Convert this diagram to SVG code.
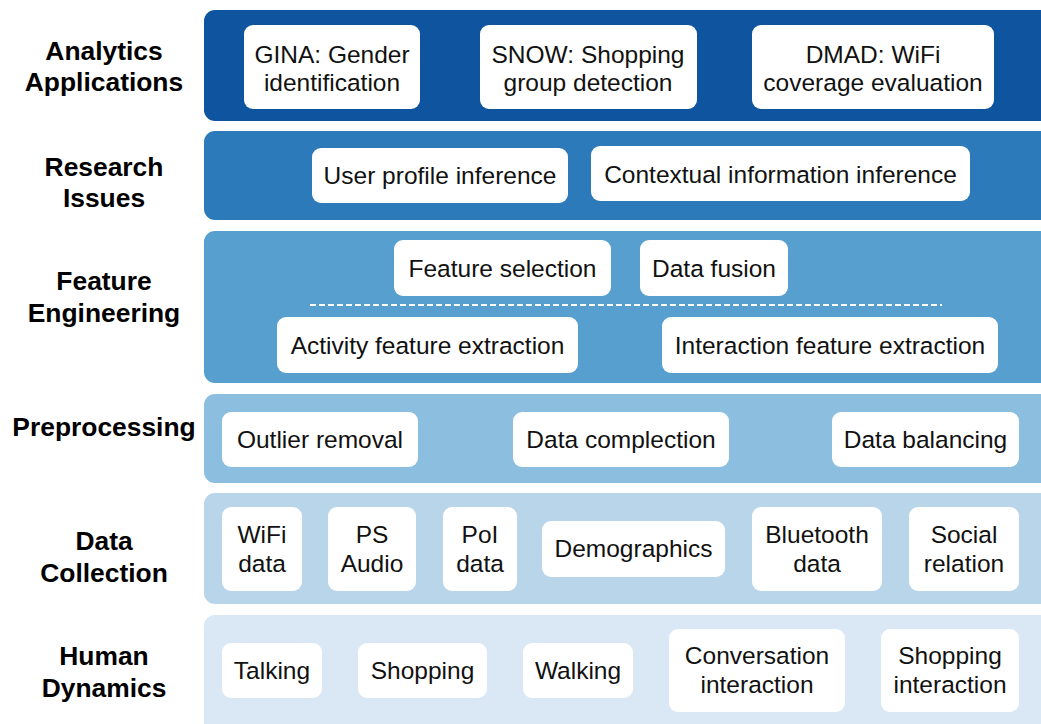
<svg xmlns="http://www.w3.org/2000/svg" width="1041" height="724" viewBox="0 0 1041 724">
<style>
.band{stroke:none}
.box{fill:#fff;stroke:none}
.lbl{font-family:"Liberation Sans",Arial,sans-serif;font-weight:bold;font-size:26.4px;fill:#000;text-anchor:middle}
.t{font-family:"Liberation Sans",Arial,sans-serif;font-size:24.5px;fill:#111;text-anchor:middle}
</style>
<rect width="1041" height="724" fill="#fff"/>
<g id="layer-analytics">
<rect class="band" x="204" y="10" width="848" height="111" rx="11" fill="#0e549f"/>
<text class="lbl" x="104" y="60">Analytics</text><text class="lbl" x="104" y="91">Applications</text>
</g>
<g id="layer-research">
<rect class="band" x="204" y="131" width="848" height="89" rx="11" fill="#2c7aba"/>
<text class="lbl" x="104" y="176">Research</text><text class="lbl" x="104" y="207">Issues</text>
</g>
<g id="layer-feature">
<rect class="band" x="204" y="231" width="848" height="152" rx="11" fill="#579fcf"/>
<text class="lbl" x="104" y="290">Feature</text><text class="lbl" x="104" y="322">Engineering</text>
</g>
<g id="layer-preprocessing">
<rect class="band" x="204" y="394" width="848" height="89" rx="11" fill="#8bbedf"/>
<text class="lbl" x="104" y="436">Preprocessing</text>
</g>
<g id="layer-datacollection">
<rect class="band" x="204" y="493" width="848" height="111" rx="11" fill="#b9d5ea"/>
<text class="lbl" x="104" y="550">Data</text><text class="lbl" x="104" y="582">Collection</text>
</g>
<g id="layer-human">
<rect class="band" x="204" y="615" width="848" height="120" rx="11" fill="#dae7f4"/>
<text class="lbl" x="104" y="665">Human</text><text class="lbl" x="104" y="697">Dynamics</text>
</g>
<g id="connectors">
<line x1="310" y1="305" x2="942" y2="305" stroke="#fff" stroke-width="2" stroke-dasharray="6,3"/>
</g>
<g id="n-gina"><rect class="box" x="244" y="25" width="176" height="84" rx="9"/><text class="t" x="332" y="63">GINA: Gender</text><text class="t" x="332" y="91">identification</text></g>
<g id="n-snow"><rect class="box" x="480" y="25" width="217" height="84" rx="9"/><text class="t" x="588" y="63">SNOW: Shopping</text><text class="t" x="588" y="91">group detection</text></g>
<g id="n-dmad"><rect class="box" x="752" y="25" width="242" height="84" rx="9"/><text class="t" x="873" y="63">DMAD: WiFi</text><text class="t" x="873" y="91">coverage evaluation</text></g>
<g id="n-user"><rect class="box" x="312" y="148" width="256" height="55" rx="9"/><text class="t" x="440" y="184">User profile inference</text></g>
<g id="n-context"><rect class="box" x="591" y="146" width="379" height="55" rx="9"/><text class="t" x="780.5" y="183">Contextual information inference</text></g>
<g id="n-fsel"><rect class="box" x="394" y="240" width="217" height="56" rx="9"/><text class="t" x="502.5" y="277">Feature selection</text></g>
<g id="n-fusion"><rect class="box" x="640" y="240" width="148" height="56" rx="9"/><text class="t" x="714" y="277">Data fusion</text></g>
<g id="n-activity"><rect class="box" x="277" y="317" width="301" height="56" rx="9"/><text class="t" x="427.5" y="354">Activity feature extraction</text></g>
<g id="n-interaction"><rect class="box" x="662" y="317" width="336" height="56" rx="9"/><text class="t" x="830" y="354">Interaction feature extraction</text></g>
<g id="n-outlier"><rect class="box" x="222" y="412" width="196" height="55" rx="9"/><text class="t" x="320" y="448">Outlier removal</text></g>
<g id="n-complection"><rect class="box" x="513" y="412" width="216" height="55" rx="9"/><text class="t" x="621" y="448">Data complection</text></g>
<g id="n-balancing"><rect class="box" x="832" y="412" width="187" height="55" rx="9"/><text class="t" x="925.5" y="448">Data balancing</text></g>
<g id="n-wifi"><rect class="box" x="222" y="507" width="80" height="84" rx="9"/><text class="t" x="262" y="543">WiFi</text><text class="t" x="262" y="572">data</text></g>
<g id="n-ps"><rect class="box" x="328" y="507" width="88" height="84" rx="9"/><text class="t" x="372" y="543">PS</text><text class="t" x="372" y="572">Audio</text></g>
<g id="n-poi"><rect class="box" x="443" y="507" width="74" height="84" rx="9"/><text class="t" x="480" y="543">PoI</text><text class="t" x="480" y="572">data</text></g>
<g id="n-demo"><rect class="box" x="542" y="521" width="183" height="56" rx="9"/><text class="t" x="633.5" y="557">Demographics</text></g>
<g id="n-bt"><rect class="box" x="752" y="507" width="130" height="84" rx="9"/><text class="t" x="817" y="543">Bluetooth</text><text class="t" x="817" y="572">data</text></g>
<g id="n-social"><rect class="box" x="909" y="507" width="110" height="84" rx="9"/><text class="t" x="964" y="543">Social</text><text class="t" x="964" y="572">relation</text></g>
<g id="n-talking"><rect class="box" x="222" y="643" width="100" height="55" rx="9"/><text class="t" x="272" y="679">Talking</text></g>
<g id="n-shopping"><rect class="box" x="358" y="643" width="129" height="55" rx="9"/><text class="t" x="422.5" y="679">Shopping</text></g>
<g id="n-walking"><rect class="box" x="523" y="643" width="110" height="55" rx="9"/><text class="t" x="578" y="679">Walking</text></g>
<g id="n-conv"><rect class="box" x="669" y="629" width="176" height="83" rx="9"/><text class="t" x="757" y="664">Conversation</text><text class="t" x="757" y="693">interaction</text></g>
<g id="n-shopint"><rect class="box" x="881" y="629" width="138" height="83" rx="9"/><text class="t" x="950" y="664">Shopping</text><text class="t" x="950" y="693">interaction</text></g>
</svg>
